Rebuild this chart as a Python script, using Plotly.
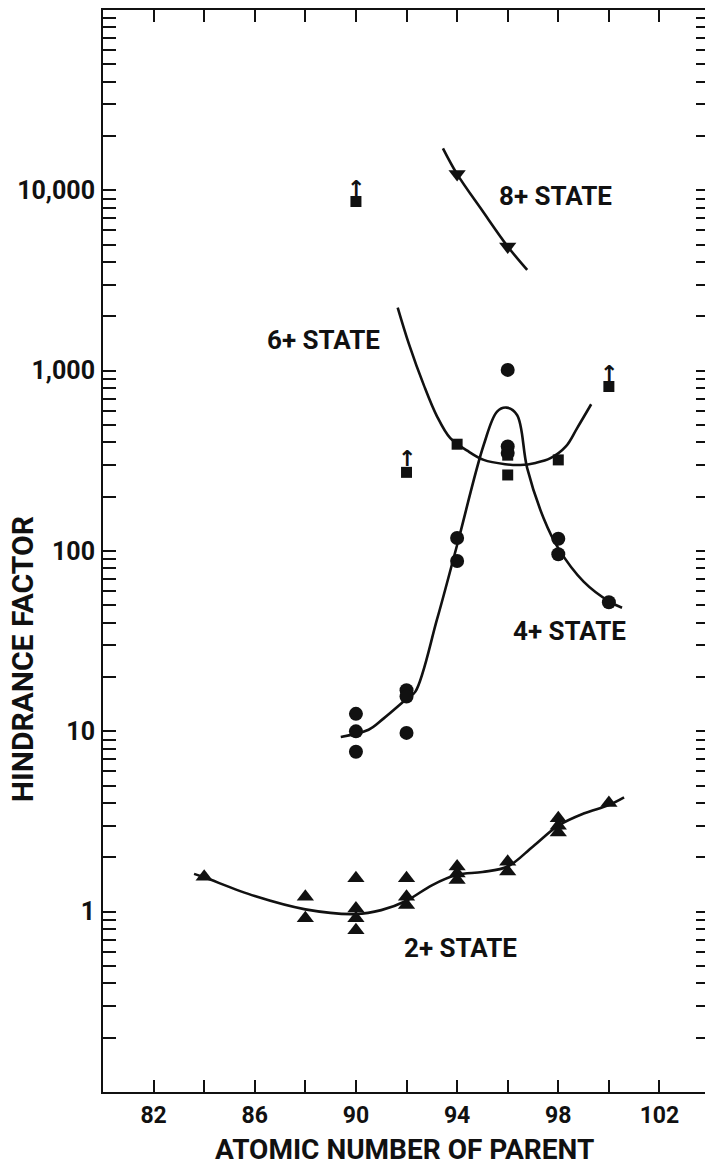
import plotly.graph_objects as go
import numpy as np

# ---------------- data ----------------
# 2+ state (up triangles)
z2 = [84, 88, 88, 90, 90, 90, 90, 92, 92, 92, 94, 94, 94, 96, 96, 98, 98, 98, 100]
hf2 = [1.56, 1.21, 0.92, 1.53, 1.04, 0.92, 0.79, 1.53, 1.21, 1.09, 1.78, 1.63, 1.5, 1.89, 1.67, 3.3, 3.0, 2.75, 4.0]
curve2_z = [83.6, 84, 86, 88, 90, 91, 92, 93, 94, 95, 96, 97, 98, 99, 100, 100.6]
curve2_hf = [1.62, 1.55, 1.22, 1.03, 0.97, 1.02, 1.15, 1.4, 1.6, 1.66, 1.78, 2.3, 3.0, 3.5, 3.9, 4.3]

# 4+ state (circles)
z4 = [90, 90, 90, 92, 92, 92, 94, 94, 96, 96, 96, 98, 98, 100]
hf4 = [12.5, 10.0, 7.7, 16.9, 15.6, 9.8, 118, 88, 1010, 380, 350, 117, 96, 52]
curve4_z = [89.4, 90.5, 91.1, 92.02, 92.35, 93.21, 94.0, 95.05, 95.58, 95.95, 96.37, 96.77, 97.42, 98.01, 99.0, 100.02, 100.52]
curve4_hf = [9.3, 10.2, 11.8, 15.2, 16.6, 42, 108, 387, 593, 624, 568, 288, 152, 103, 67.6, 52.4, 48.5]

# 6+ state (squares); lower limits marked with arrows
z6 = [90, 92, 94, 96, 96, 98, 100]
hf6 = [8670, 273, 391, 340, 264, 320, 817]
z6_limit = [90, 92, 100]
hf6_limit = [8670, 273, 817]
curve6_z = [91.65, 92.1, 92.68, 93.2, 93.73, 94.4, 95.05, 95.9, 96.5, 97.1, 97.69, 98.3, 98.74, 99.3]
curve6_hf = [2240, 1400, 834, 560, 422, 360, 320, 303, 300, 308, 327, 380, 479, 651]

# 8+ state (down triangles)
z8 = [94, 96]
hf8 = [12300, 4880]
curve8_z = [93.44, 94, 95, 96, 96.77]
curve8_hf = [17100, 12300, 7700, 4880, 3620]

# state labels
label_text = ["8+ STATE", "6+ STATE", "4+ STATE", "2+ STATE"]
label_z = [97.9, 88.7, 98.45, 94.13]
label_hf = [9270, 1476, 35.9, 0.63]

# axis ticks
x_tickvals = list(range(80, 104, 2))
x_ticktext = ["82", "86", "90", "94", "98", "102"]
x_labeled = [82, 86, 90, 94, 98, 102]
y_major = [1, 10, 100, 1000, 10000]
y_ticktext = ["1", "10", "100", "1,000", "10,000"]

# ---------------- figure ----------------
BLACK = "#111111"
FONT = "Roboto, DejaVu Sans, sans-serif"
bold = "bold"

fig = go.Figure()

line_style = dict(color=BLACK, width=2.6, shape="spline", smoothing=1.0)
for cz, ch in [(curve2_z, curve2_hf), (curve4_z, curve4_hf), (curve6_z, curve6_hf), (curve8_z, curve8_hf)]:
    fig.add_trace(go.Scatter(x=cz, y=ch, mode="lines", line=line_style, hoverinfo="skip", showlegend=False))

fig.add_trace(go.Scatter(x=z2, y=hf2, mode="markers",
                         marker=dict(symbol="triangle-up", size=15, color=BLACK), showlegend=False))
fig.add_trace(go.Scatter(x=z4, y=hf4, mode="markers",
                         marker=dict(symbol="circle", size=14, color=BLACK), showlegend=False))
fig.add_trace(go.Scatter(x=z6, y=hf6, mode="markers",
                         marker=dict(symbol="square", size=11, color=BLACK), showlegend=False))
fig.add_trace(go.Scatter(x=z8, y=hf8, mode="markers",
                         marker=dict(symbol="triangle-down", size=15, color=BLACK), showlegend=False))
# invisible trace to carry the right-hand tick axis
fig.add_trace(go.Scatter(x=[None], y=[None], yaxis="y2", showlegend=False, hoverinfo="skip"))

annotations = []
# lower-limit arrows above squares
for zl, hl in zip(z6_limit, hf6_limit):
    annotations.append(dict(x=zl, y=np.log10(hl), xref="x", yref="y", text="↑",
                            showarrow=False, yanchor="bottom", yshift=-1,
                            font=dict(family="DejaVu Sans", size=22, color=BLACK, weight=bold)))
for t, lz, lh in zip(label_text, label_z, label_hf):
    annotations.append(dict(x=lz, y=np.log10(lh), xref="x", yref="y", text=t, showarrow=False,
                            font=dict(family=FONT, size=26, color=BLACK, weight=bold)))
annotations.append(dict(x=0, y=0.40, xref="paper", yref="paper", xanchor="center", yanchor="middle",
                        text="HINDRANCE FACTOR", textangle=-90, showarrow=False, xshift=-81,
                        font=dict(family=FONT, size=30, color=BLACK, weight=bold)))
annotations.append(dict(x=0.5, y=0, xref="paper", yref="paper", xanchor="center", yanchor="middle",
                        text="ATOMIC NUMBER OF PARENT", showarrow=False, yshift=-57,
                        font=dict(family=FONT, size=28, color=BLACK, weight=bold)))

y_tickvals = []
y_text = []
for d in range(-1, 5):
    for m in range(1, 10):
        v = m * 10.0 ** d
        y_tickvals.append(v)
        if v in y_major:
            y_text.append(y_ticktext[y_major.index(v)])
        else:
            y_text.append("")
y_tickvals.append(1e5)
y_text.append("")

x_text = [x_ticktext[x_labeled.index(v)] if v in x_labeled else "" for v in x_tickvals]

fig.update_layout(
    width=705, height=1166,
    margin=dict(l=103, r=0, t=10, b=74),
    paper_bgcolor="white", plot_bgcolor="white",
    font=dict(family=FONT, size=24, color=BLACK),
    annotations=annotations,
    showlegend=False,
    yaxis2=dict(type="log", range=[-1, 5], overlaying="y", side="right", showgrid=False,
                zeroline=False, showline=False, ticks="inside", ticklen=9, tickwidth=1.6,
                tickcolor=BLACK, tickvals=y_tickvals, ticktext=[""] * len(y_tickvals)),
)
fig.update_xaxes(range=[80, 103.8], showgrid=False, zeroline=False,
                 showline=True, linecolor=BLACK, linewidth=2, mirror="ticks",
                 ticks="inside", ticklen=12, tickwidth=1.6, tickcolor=BLACK,
                 tickvals=x_tickvals, ticktext=x_text, ticklabelstandoff=1,
                 tickfont=dict(family=FONT, size=23, color=BLACK, weight=bold))
fig.update_layout(yaxis=dict(type="log", range=[-1, 5], showgrid=False, zeroline=False,
                             showline=True, linecolor=BLACK, linewidth=2, mirror=False,
                             ticks="inside", ticklen=13, tickwidth=1.6, tickcolor=BLACK,
                             tickvals=y_tickvals, ticktext=y_text, ticklabelstandoff=1,
                             tickfont=dict(family=FONT, size=25, color=BLACK, weight=bold)))

fig.write_html("out.html")
